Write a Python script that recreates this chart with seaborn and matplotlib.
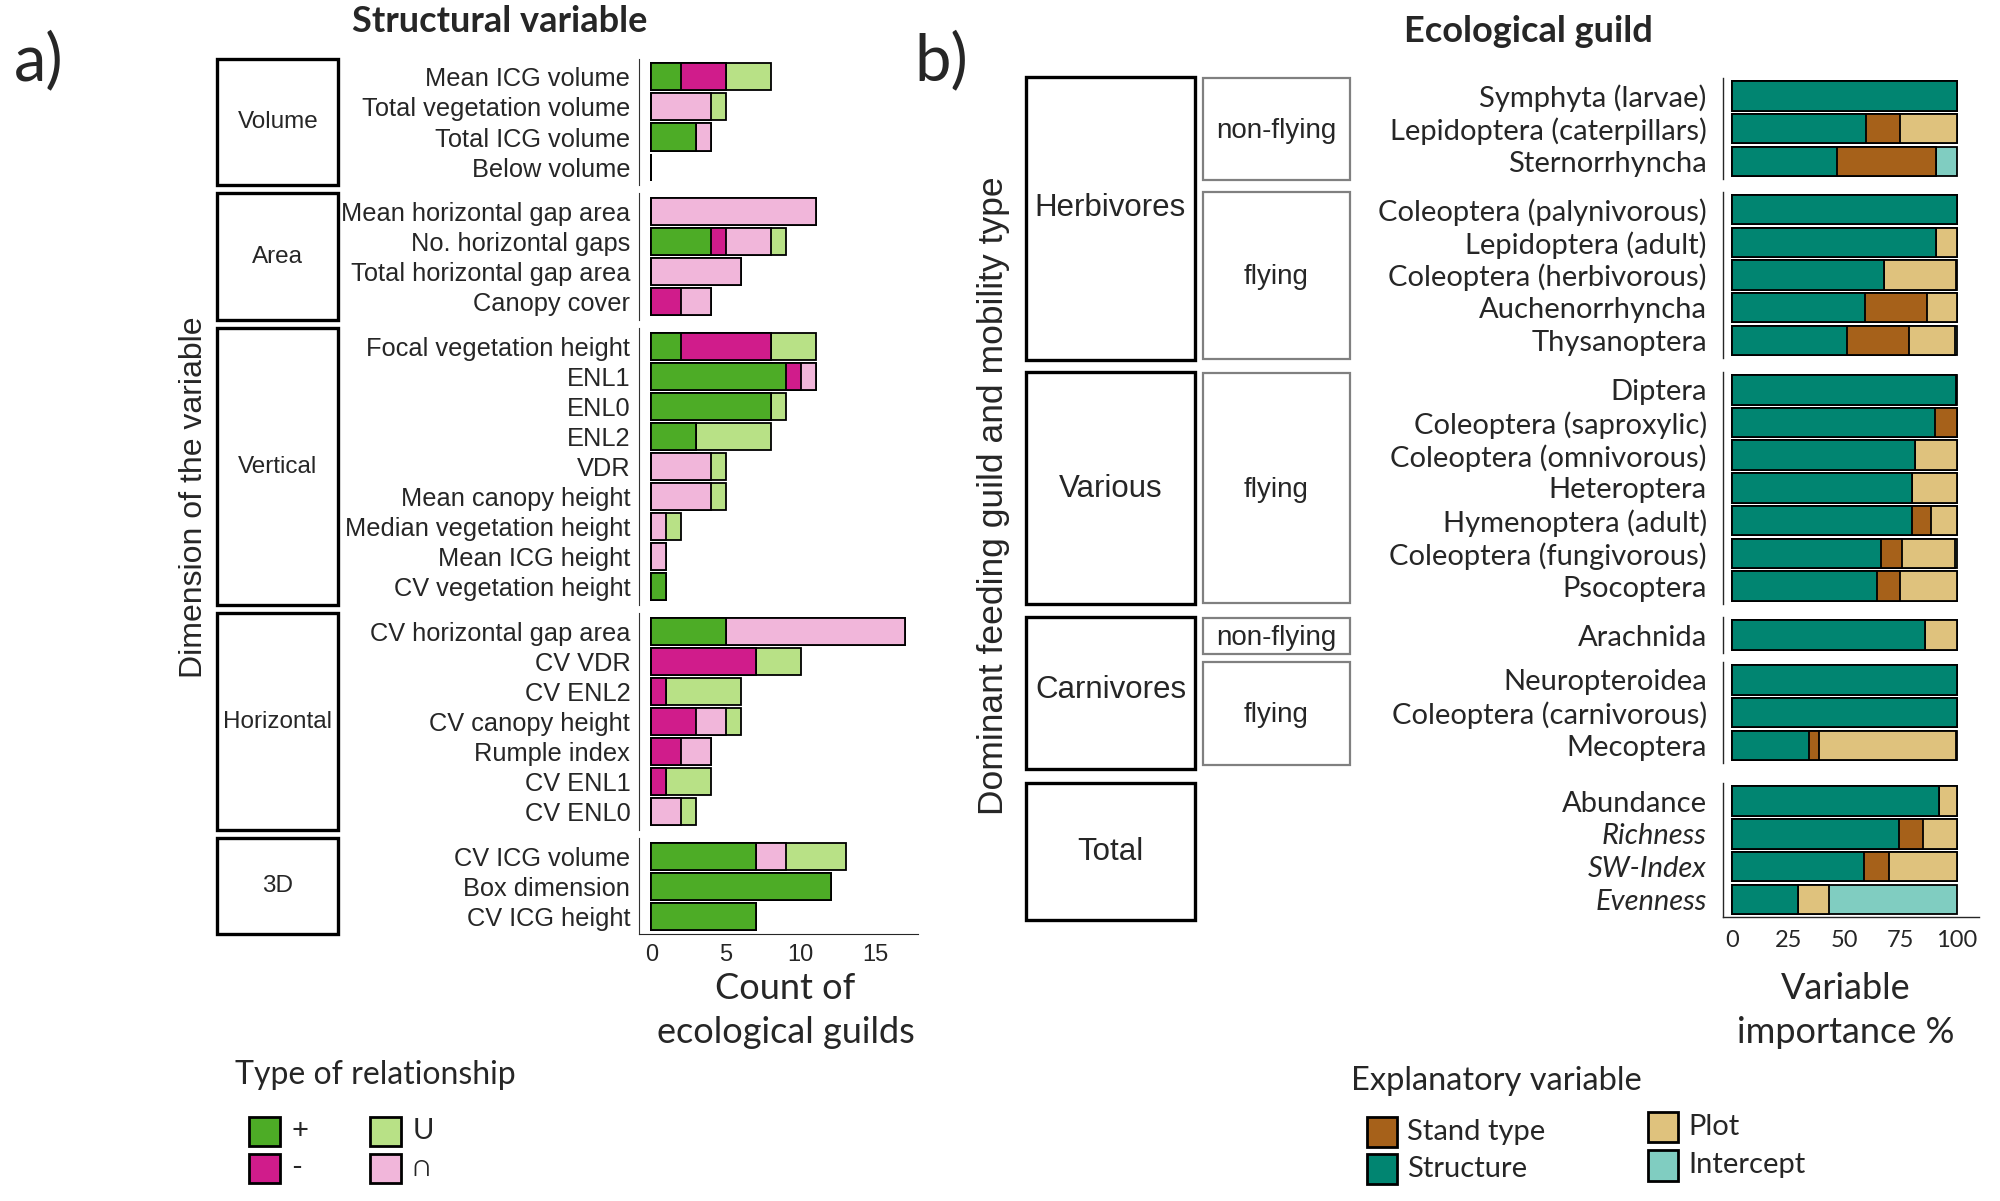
import matplotlib
matplotlib.use('Agg')
import numpy as np
import pandas as pd
import matplotlib.pyplot as plt
import seaborn as sns
from matplotlib.patches import Rectangle

# ============================
# Data - panel a (counts of ecological guilds)
# ============================
dimensions = ['Volume', 'Area', 'Vertical', 'Horizontal', '3D']
variables = [
    ['Mean ICG volume', 'Total vegetation volume', 'Total ICG volume', 'Below volume'],
    ['Mean horizontal gap area', 'No. horizontal gaps', 'Total horizontal gap area', 'Canopy cover'],
    ['Focal vegetation height', 'ENL1', 'ENL0', 'ENL2', 'VDR', 'Mean canopy height',
     'Median vegetation height', 'Mean ICG height', 'CV vegetation height'],
    ['CV horizontal gap area', 'CV VDR', 'CV ENL2', 'CV canopy height', 'Rumple index',
     'CV ENL1', 'CV ENL0'],
    ['CV ICG volume', 'Box dimension', 'CV ICG height'],
]
rel_pos = [2, 0, 3, 0, 0, 4, 0, 0, 2, 9, 8, 3, 0, 0, 0, 0, 1, 5, 0, 0, 0, 0, 0, 0, 7, 12, 7]
rel_neg = [3, 0, 0, 0, 0, 1, 0, 2, 6, 1, 0, 0, 0, 0, 0, 0, 0, 0, 7, 1, 3, 2, 1, 0, 0, 0, 0]
rel_cap = [0, 4, 1, 0, 11, 3, 6, 2, 0, 1, 0, 0, 4, 4, 1, 1, 0, 12, 0, 0, 2, 2, 0, 2, 2, 0, 0]
rel_cup = [3, 1, 0, 0, 0, 1, 0, 0, 3, 0, 1, 5, 1, 1, 1, 0, 0, 0, 3, 5, 1, 0, 3, 1, 4, 0, 0]
rel_labels = ['+', '-', 'U', '\u2229']
rel_colors = {'+': '#4DAC26', '-': '#D01C8B', 'U': '#B8E186', '\u2229': '#F1B6DA'}

# ============================
# Data - panel b (variable importance %)
# ============================
guild_outer = ['Herbivores', 'Herbivores', 'Various', 'Carnivores', 'Carnivores', 'Total']
guild_inner = ['non-flying', 'flying', 'flying', 'non-flying', 'flying', None]
taxa = [
    ['Symphyta (larvae)', 'Lepidoptera (caterpillars)', 'Sternorrhyncha'],
    ['Coleoptera (palynivorous)', 'Lepidoptera (adult)', 'Coleoptera (herbivorous)',
     'Auchenorrhyncha', 'Thysanoptera'],
    ['Diptera', 'Coleoptera (saproxylic)', 'Coleoptera (omnivorous)', 'Heteroptera',
     'Hymenoptera (adult)', 'Coleoptera (fungivorous)', 'Psocoptera'],
    ['Arachnida'],
    ['Neuropteroidea', 'Coleoptera (carnivorous)', 'Mecoptera'],
    ['Abundance', 'Richness', 'SW-Index', 'Evenness'],
]
italic_taxa = ['Richness', 'SW-Index', 'Evenness']
imp_structure = [100, 59.4, 46.4, 100, 90.5, 67.7, 59, 51.1, 99.5, 90.2, 81.4, 80, 80, 66.3,
                 64.3, 85.9, 100, 100, 33.9, 92.1, 74.3, 58.7, 29.1]
imp_stand = [0, 15, 44.2, 0, 0, 0, 27.5, 27.6, 0, 9.8, 0, 0, 8.6, 9.2, 10.4, 0, 0, 0, 4.5,
             0, 10.4, 11.1, 0]
imp_plot = [0, 25.6, 0, 0, 9.5, 31.8, 13.5, 20.6, 0, 0, 18.6, 20, 11.4, 23.8, 25.3, 14.1, 0,
            0, 61.2, 7.9, 15.3, 30.2, 14]
imp_intercept = [0, 0, 9.4, 0, 0, 0.5, 0, 0.7, 0.5, 0, 0, 0, 0, 0.7, 0, 0, 0, 0, 0.4, 0, 0,
                 0, 56.9]
expl_colors = {'Stand type': '#A6611A', 'Plot': '#DFC27D', 'Intercept': '#80CDC1',
               'Structure': '#018571'}

# ============================
# Layout helpers (reference pixel grid)
# ============================
W, H = 1566.0, 940.0
ARIAL = 'Liberation Sans'
CAL = ['Lato', 'DejaVu Sans']

sns.set_style('white')
plt.rcParams['font.family'] = [ARIAL, 'DejaVu Sans']

fig = plt.figure(figsize=(20, 12.01), dpi=100)


def rect(x0, y0, x1, y1):
    return [x0 / W, 1 - y1 / H, (x1 - x0) / W, (y1 - y0) / H]


def box(x0, y0, x1, y1, ec='black', lw=2.4, fc='none'):
    fig.add_artist(Rectangle((x0 / W, 1 - y1 / H), (x1 - x0) / W, (y1 - y0) / H,
                             transform=fig.transFigure, facecolor=fc, edgecolor=ec, lw=lw))


def ftext(x, y, s, **kw):
    fig.text(x / W, 1 - y / H, s, **kw)


def stacked(ax, names, layers, lw):
    # draw cumulative bars from longest to shortest so every segment stays visible
    for color, vals in layers:
        sns.barplot(x=vals, y=names, order=names, orient='h', color=color, saturation=1,
                    edgecolor='black', linewidth=lw, width=0.9, errorbar=None, ax=ax)


# ============================
# Panel a
# ============================
unit_a, gap_a, top = 23.55, 6.5, 46.0
k = 0
for i, (dim, names) in enumerate(zip(dimensions, variables)):
    n = len(names)
    bottom = top + (n + 0.2) * unit_a
    p = np.array(rel_pos[k:k + n])
    m = np.array(rel_neg[k:k + n])
    c = np.array(rel_cap[k:k + n])
    u = np.array(rel_cup[k:k + n])
    k += n
    ax = fig.add_axes(rect(500.1, top, 718.8, bottom))
    stacked(ax, names, [(rel_colors['U'], p + m + c + u), (rel_colors['\u2229'], p + m + c),
                        (rel_colors['-'], p + m), (rel_colors['+'], p)], 1.3)
    ax.set_xlim(-0.85, 17.85)
    ax.set_ylim(n - 0.4, -0.6)
    ax.set_xlabel('')
    ax.set_ylabel('')
    for s in ['top', 'right']:
        ax.spines[s].set_visible(False)
    ax.spines['left'].set_linewidth(0.8)
    ax.spines['left'].set_color('#333333')
    ax.tick_params(axis='y', length=4, width=0.8, pad=2, labelsize=18.3, color='#333333')
    if i < len(dimensions) - 1:
        ax.spines['bottom'].set_visible(False)
        ax.set_xticks([])
    else:
        ax.spines['bottom'].set_linewidth(0.8)
        ax.set_xticks([0, 5, 10, 15])
        ax.tick_params(axis='x', length=4, width=0.8, pad=3, labelsize=17)
    box(170, top, 265, bottom)
    ftext(217.5, (top + bottom) / 2, dim, ha='center', va='center', fontsize=17.5, family=ARIAL)
    top = bottom + gap_a

ftext(30, 48, 'a)', ha='center', va='center', fontsize=47, family=CAL)
ftext(391, 17, 'Structural variable', ha='center', va='center', fontsize=26,
      family=CAL, fontweight='bold')
ftext(152, 389, 'Dimension of the variable', ha='center', va='center', rotation=90,
      fontsize=23, family=ARIAL)
ftext(615, 791, 'Count of\necological guilds', ha='center', va='center', fontsize=26,
      family=CAL, linespacing=1.42)

# legend a
ftext(184, 841, 'Type of relationship', ha='left', va='center', fontsize=23, family=CAL)
for lab, (x0, y0) in zip(['+', '-', 'U', '\u2229'], [(195, 874), (195, 903), (290, 874), (290, 903)]):
    box(x0, y0, x0 + 24, y0 + 23, lw=2.0, fc=rel_colors[lab])
    ftext(x0 + 33, y0 + 11.5, lab, ha='left', va='center', fontsize=21, family=CAL)

# ============================
# Panel b
# ============================
unit_b = 25.6
tops_b = [61, 150, 291, 483, 518, 613]
k = 0
for i, names in enumerate(taxa):
    n = len(names)
    top = tops_b[i]
    bottom = top + (n + 0.1) * unit_b
    s1 = np.array(imp_structure[k:k + n])
    s2 = np.array(imp_stand[k:k + n])
    s3 = np.array(imp_plot[k:k + n])
    s4 = np.array(imp_intercept[k:k + n])
    k += n
    ax = fig.add_axes(rect(1349.5, top, 1549.9, bottom))
    stacked(ax, names, [(expl_colors['Intercept'], s1 + s2 + s3 + s4),
                        (expl_colors['Plot'], s1 + s2 + s3),
                        (expl_colors['Stand type'], s1 + s2),
                        (expl_colors['Structure'], s1)], 1.3)
    ax.set_xlim(-4, 110)
    ax.set_ylim(n - 0.45, -0.55)
    ax.set_xlabel('')
    ax.set_ylabel('')
    for s in ['top', 'right']:
        ax.spines[s].set_visible(False)
    ax.spines['left'].set_linewidth(1.0)
    ax.tick_params(axis='y', length=6, width=1.0, pad=6, labelsize=21)
    for t in ax.get_yticklabels():
        t.set_family(CAL)
        if t.get_text() in italic_taxa:
            t.set_style('italic')
    if i < len(taxa) - 1:
        ax.spines['bottom'].set_visible(False)
        ax.set_xticks([])
    else:
        ax.spines['bottom'].set_linewidth(1.0)
        ax.set_xticks([0, 25, 50, 75, 100])
        ax.tick_params(axis='x', length=5, width=1.0, pad=4, labelsize=17)
        for t in ax.get_xticklabels():
            t.set_family(CAL)

# nested strips
outer_spans = [('Herbivores', 60, 282, 163), ('Various', 291, 473, 383),
               ('Carnivores', 483, 602, 540), ('Total', 613, 720, 667)]
for lab, y0, y1, yc in outer_spans:
    box(803, y0, 936, y1, lw=2.4)
    ftext(869.5, yc, lab, ha='center', va='center', fontsize=22.5, family=ARIAL)
inner_spans = [(61, 141), (150, 281), (292, 472), (484, 512), (518, 599)]
for lab, (y0, y1) in zip(guild_inner, inner_spans):
    box(942, y0, 1057, y1, ec='#808080', lw=1.6)
    ftext(999.5, (y0 + y1) / 2 + 1.5, lab, ha='center', va='center', fontsize=20, family=ARIAL)

ftext(737, 48, 'b)', ha='center', va='center', fontsize=47, family=CAL)
ftext(1197, 25, 'Ecological guild', ha='center', va='center', fontsize=26,
      family=CAL, fontweight='bold')
ftext(778, 388, 'Dominant feeding guild and mobility type', ha='center', va='center',
      rotation=90, fontsize=25.5, family=ARIAL)
ftext(1445, 791, 'Variable\nimportance %', ha='center', va='center', fontsize=26,
      family=CAL, linespacing=1.42)

# legend b
ftext(1058, 846, 'Explanatory variable', ha='left', va='center', fontsize=23.5, family=CAL)
for lab, (x0, y0) in zip(['Stand type', 'Structure', 'Plot', 'Intercept'],
                         [(1070, 874), (1070, 903), (1290, 870), (1290, 900)]):
    box(x0, y0, x0 + 24, y0 + 24, lw=2.0, fc=expl_colors[lab])
    ftext(x0 + 32, y0 + 12, lab, ha='left', va='center', fontsize=21, family=CAL)

fig.savefig('out.png', dpi=100, facecolor='white')
